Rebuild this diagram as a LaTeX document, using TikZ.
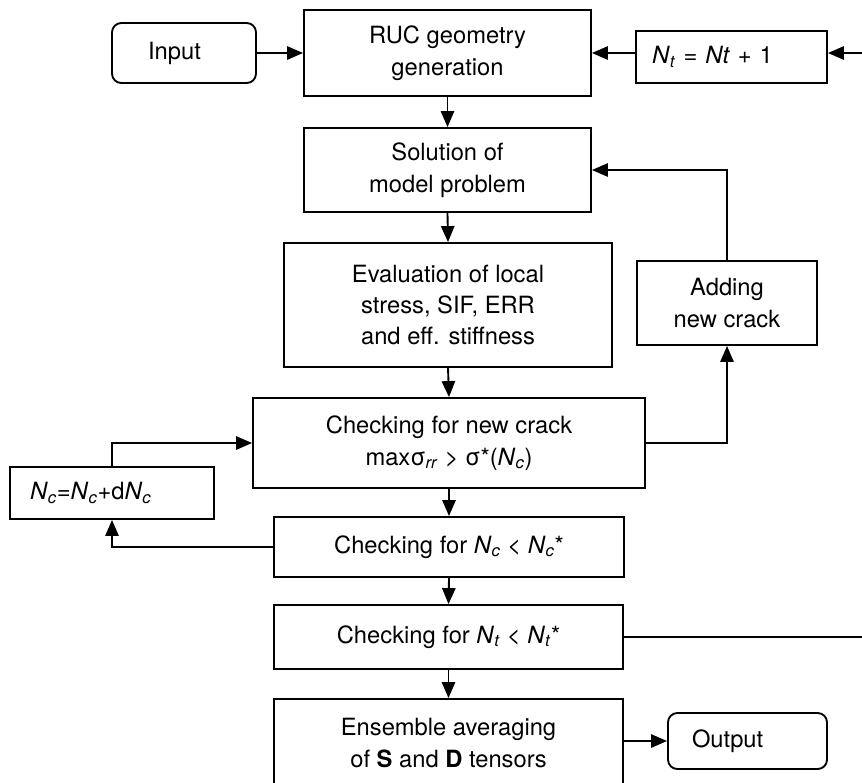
\documentclass[tikz,border=0pt]{standalone}
\usepackage{fontspec}
\setmainfont{TeX Gyre Heros}
\usetikzlibrary{arrows.meta}
\newcommand{\Nsub}[1]{\textit{N}\textsubscript{\textit{#1}}}
\begin{document}
\begin{tikzpicture}[x=0.75pt,y=-0.75pt,
  box/.style={draw,line width=1.4pt,inner sep=0pt,align=center,font=\fontsize{17.8}{23.6}\selectfont},
  rbox/.style={box,rounded corners=7pt},
  lbox/.style={align=left},
  arr/.style={line width=1.4pt,-{Triangle[length=12pt,width=10pt]}},
  ln/.style={line width=1.4pt}]
\clip (0,0) rectangle (862,782);
% nodes
\node[rbox,lbox,minimum width=108pt,minimum height=45pt,inner xsep=27pt,text width=54pt] (in) at (184,53) {Input};
\node[box,minimum width=215.25pt,minimum height=64.5pt] (ruc) at (447.5,53) {RUC geometry\\generation};
\node[box,lbox,minimum width=143.25pt,minimum height=39pt,inner xsep=12pt,text width=119.25pt] (nt) at (731.5,57) {\Nsub{t} = \textit{Nt} + 1};
\node[box,minimum width=215.25pt,minimum height=63pt] (sol) at (447.5,170) {Solution of\\model problem};
\node[box,minimum width=246pt,minimum height=93pt] (eval) at (448,305) {Evaluation of local\\stress, SIF, ERR\\and eff. stiffness};
\node[box,minimum width=135pt,minimum height=63pt] (add) at (727,303) {Adding\\new crack};
\node[box,minimum width=294pt,minimum height=67.5pt] (chk1) at (449,443) {Checking for new crack\\maxσ\textsubscript{\textit{rr}} > σ*(\Nsub{c})};
\node[box,lbox,minimum width=153pt,minimum height=39pt,inner xsep=15pt,text width=123pt] (ncu) at (112,493) {\Nsub{c}=\Nsub{c}+d\Nsub{c}};
\node[box,minimum width=262.5pt,minimum height=45pt] (chk2) at (449,547) {Checking for \Nsub{c} < \Nsub{c}*};
\node[box,minimum width=261.75pt,minimum height=48pt] (chk3) at (448.5,637) {Checking for \Nsub{t} < \Nsub{t}*};
\node[box,minimum width=261.75pt,minimum height=66pt] (ens) at (448.5,743) {Ensemble averaging\\of \textbf{S} and \textbf{D} tensors};
\node[rbox,lbox,minimum width=119.25pt,minimum height=42pt,inner xsep=18pt,text width=83.25pt] (out) at (747.5,741) {Output};
\coordinate (rtop) at (862,53);
\coordinate (rbot) at (862,637);
% connectors
\draw[arr] (in.east) -- (ruc.west);
\draw[arr] (rtop) -- (nt.east |- rtop);
\draw[arr] (nt.west |- ruc.east) -- (ruc.east);
\draw[arr] (ruc.south) -- (sol.north);
\draw[arr] (sol.south) -- (eval.north);
\draw[arr] (eval.south) -- (chk1.north);
\draw[arr] (chk1.south) -- (chk2.north);
\draw[arr] (chk2.south) -- (chk3.north);
\draw[arr] (chk3.south) -- (ens.north);
\draw[arr] (ens.east |- out.west) -- (out.west);
\draw[arr] (chk1.east) -| (add.south);
\draw[arr] (add.north) |- (sol.east);
\draw[arr] (chk2.west) -| (ncu.south);
\draw[arr] (ncu.north) |- (chk1.west);
\draw[ln] (chk3.east) -- (rbot);
\end{tikzpicture}
\end{document}
